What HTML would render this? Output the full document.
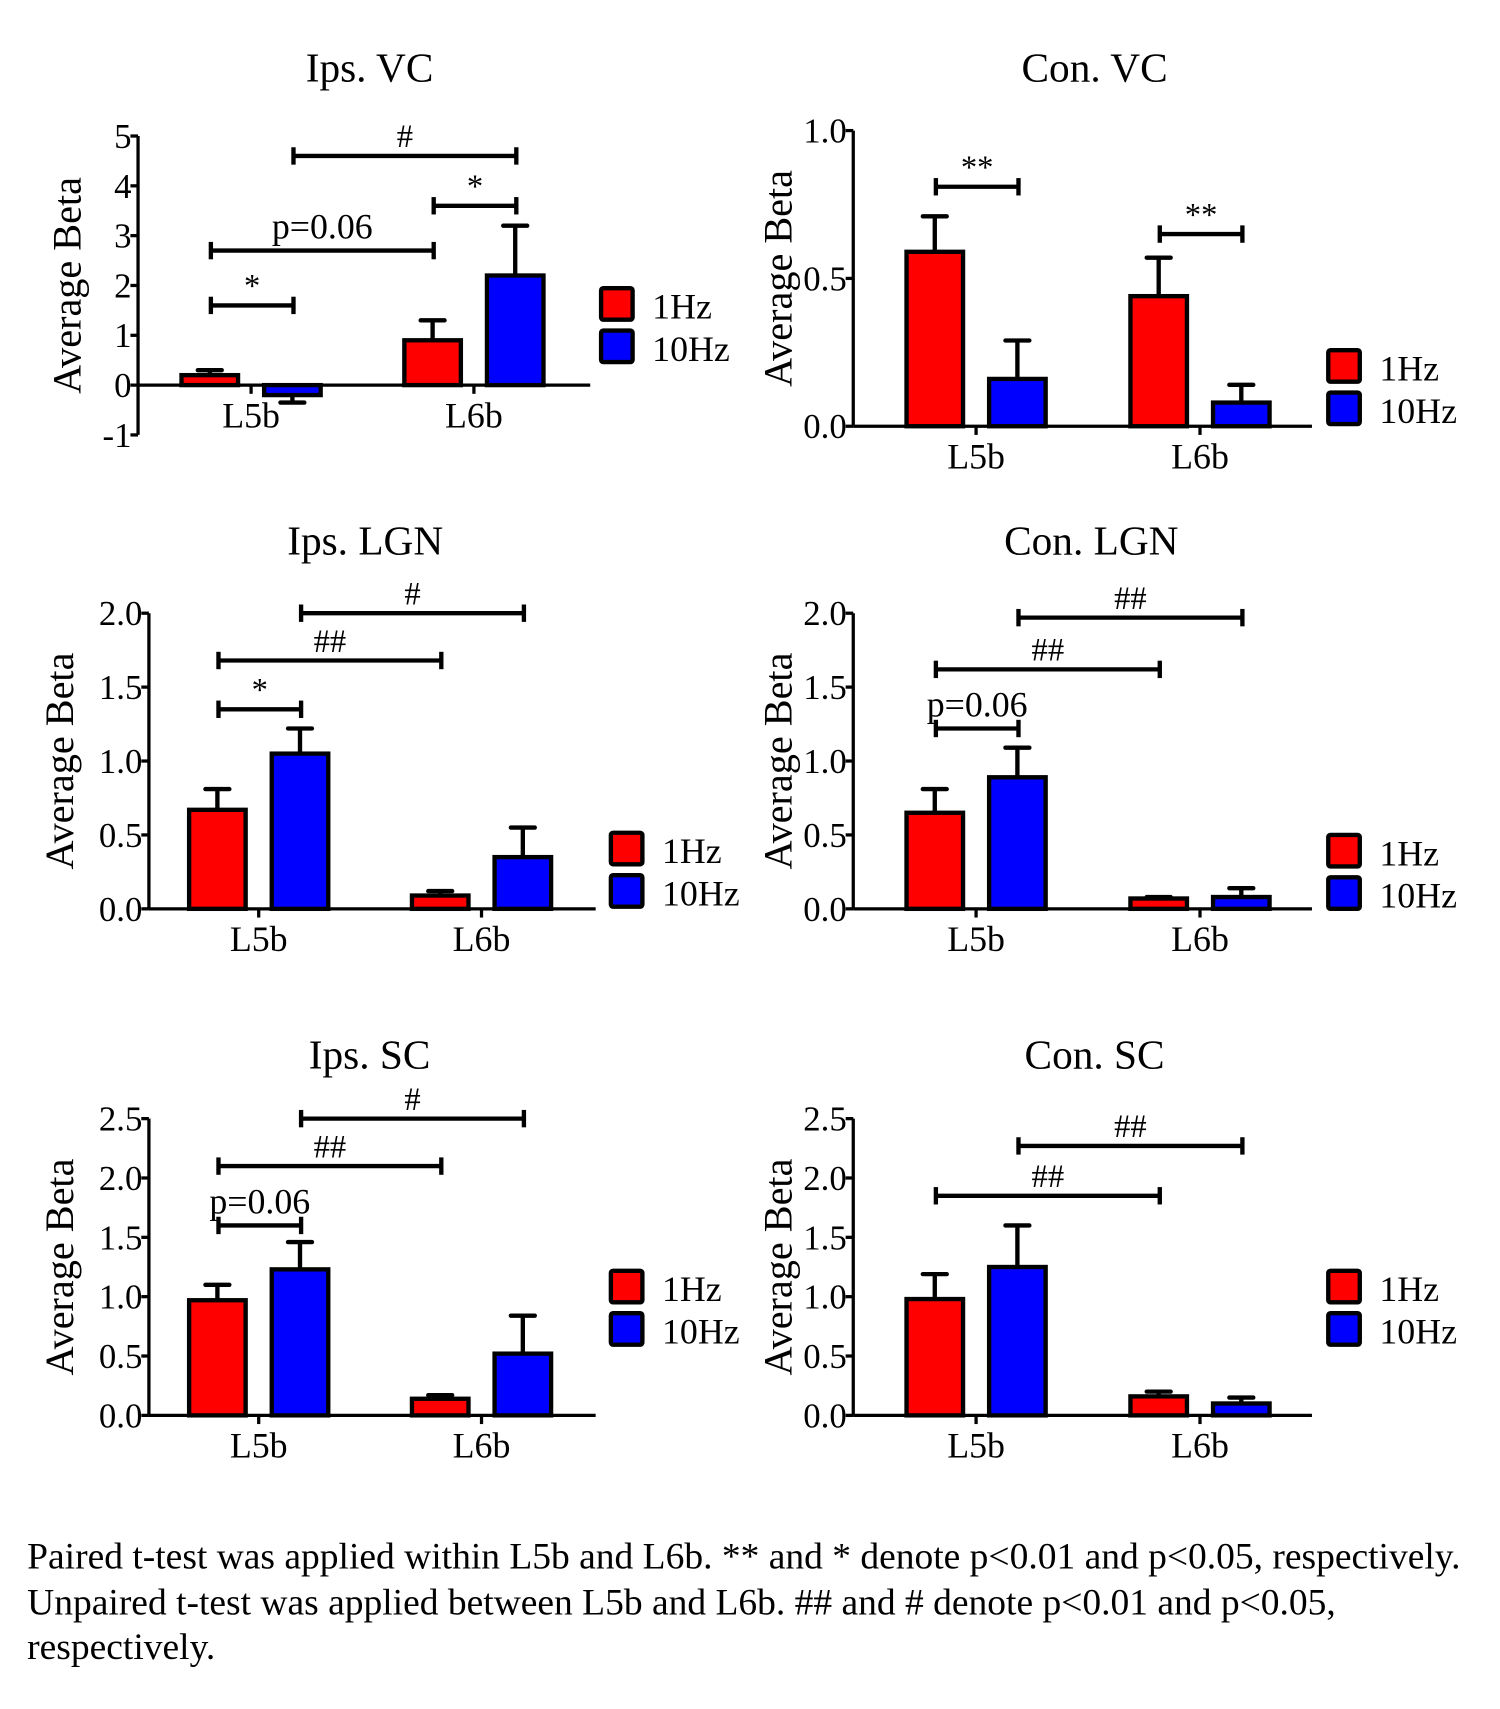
<!DOCTYPE html>
<html><head><meta charset="utf-8"><style>
html,body{margin:0;padding:0;background:#fff;}
svg{display:block;font-family:"Liberation Serif",serif;}
</style></head><body>
<svg id="fig" width="1500" height="1709" viewBox="0 0 1380 1572" xmlns="http://www.w3.org/2000/svg">
<rect width="1380" height="1572" fill="#fff"/>
<g font-size="34.5" fill="#000">
<text x="25" y="1443">Paired t-test was applied within L5b and L6b.  ** and * denote p&lt;0.01 and p&lt;0.05, respectively.</text>
<text x="25" y="1485">Unpaired t-test was applied between L5b and L6b. ## and # denote p&lt;0.01 and p&lt;0.05,</text>
<text x="25" y="1526">respectively.</text>
</g>
</svg>
<script>
const categories = ["L5b","L6b"];
const seriesNames = ["1Hz","10Hz"];
const titles = ["Ips. VC","Con. VC","Ips. LGN","Con. LGN","Ips. SC","Con. SC"];
const means1Hz = [[0.2,0.9],[0.59,0.44],[0.67,0.09],[0.65,0.07],[0.97,0.14],[0.98,0.16]];
const means10Hz = [[-0.2,2.2],[0.16,0.08],[1.05,0.35],[0.89,0.08],[1.23,0.52],[1.25,0.1]];
const err1Hz = [[0.3,1.3],[0.71,0.57],[0.81,0.12],[0.81,0.08],[1.1,0.17],[1.19,0.2]];
const err10Hz = [[-0.35,3.2],[0.29,0.14],[1.22,0.55],[1.09,0.14],[1.46,0.84],[1.6,0.15]];
const yTicks = [[-1,0,1,2,3,4,5],[0,0.5,1.0],[0,0.5,1.0,1.5,2.0],[0,0.5,1.0,1.5,2.0],[0,0.5,1.0,1.5,2.0,2.5],[0,0.5,1.0,1.5,2.0,2.5]];
const tickLabels = [["-1","0","1","2","3","4","5"],["0.0","0.5","1.0"],["0.0","0.5","1.0","1.5","2.0"],["0.0","0.5","1.0","1.5","2.0"],["0.0","0.5","1.0","1.5","2.0","2.5"],["0.0","0.5","1.0","1.5","2.0","2.5"]];
// significance brackets: [fromBarIndex, toBarIndex, yValue, label]
const sigBrackets = [
 [[0,1,1.6,"*"],[0,2,2.7,"p=0.06"],[2,3,3.6,"*"],[1,3,4.6,"#"]],
 [[0,1,0.81,"**"],[2,3,0.65,"**"]],
 [[0,1,1.35,"*"],[0,2,1.68,"##"],[1,3,2.0,"#"]],
 [[0,1,1.22,"p=0.06"],[0,2,1.62,"##"],[1,3,1.97,"##"]],
 [[0,1,1.6,"p=0.06"],[0,2,2.1,"##"],[1,3,2.5,"#"]],
 [[0,2,1.85,"##"],[1,3,2.27,"##"]]
];
const layout = [
 {ax:127,top:125,bot:400,yMin:-1,yMax:5,xEnd:543,g0:231,g1:436,title:[340,75],yl:62,leg:[553,265]},
 {ax:785,top:120,bot:392,yMin:0,yMax:1,xEnd:1207,g0:898,g1:1104,title:[1007,75],yl:716,leg:[1222,322]},
 {ax:137,top:564,bot:836,yMin:0,yMax:2,xEnd:548,g0:238,g1:443,title:[336,510],yl:55,leg:[562,766]},
 {ax:785,top:564,bot:836,yMin:0,yMax:2,xEnd:1207,g0:898,g1:1104,title:[1004,510],yl:716,leg:[1222,768]},
 {ax:137,top:1029,bot:1302,yMin:0,yMax:2.5,xEnd:548,g0:238,g1:443,title:[340,983],yl:55,leg:[562,1169]},
 {ax:785,top:1029,bot:1302,yMin:0,yMax:2.5,xEnd:1207,g0:898,g1:1104,title:[1007,983],yl:716,leg:[1222,1169]}
];
const NS="http://www.w3.org/2000/svg";
const svg=document.getElementById('fig');
function mk(tag,attrs,parent){const e=document.createElementNS(NS,tag);for(const k in attrs)e.setAttribute(k,attrs[k]);parent.appendChild(e);return e;}
const colors=["#ff0000","#0000ff"];
layout.forEach((L,p)=>{
  const g=mk('g',{},svg);
  
  
  const y=v=>L.bot-(v-L.yMin)/(L.yMax-L.yMin)*(L.bot-L.top);
  const bw=52;
  const bc=i=>{const c=i<2?L.g0:L.g1;return i%2===0?c-38:c+38;};
  const t=mk('text',{x:L.title[0],y:L.title[1],'font-size':38,'text-anchor':'middle'},g);t.textContent=titles[p];
  
  const yl=mk('text',{x:0,y:0,'font-size':37,'text-anchor':'middle',transform:`translate(${L.yl+12},${(L.top+L.bot)/2}) rotate(-90)`},g);yl.textContent='Average Beta';
  
  for(let i=0;i<4;i++){
    const s=i%2, c=i<2?0:1;
    const m=(s===0?means1Hz:means10Hz)[p][c], e=(s===0?err1Hz:err10Hz)[p][c];
    const cx=bc(i), y0=y(0), ym=y(m), ye=y(e);
    mk('line',{x1:cx,x2:cx,y1:ym,y2:ye,stroke:'#000','stroke-width':4},g);
    mk('line',{x1:cx-11,x2:cx+11,y1:ye,y2:ye,stroke:'#000','stroke-width':4,'stroke-linecap':'round'},g);
    const r=mk('rect',{x:cx-bw/2,y:Math.min(y0,ym),width:bw,height:Math.max(1,Math.abs(ym-y0)),fill:colors[s],stroke:'#000','stroke-width':4},g);
    
    
  }
  const ya=mk('line',{x1:L.ax,x2:L.ax,y1:L.top,y2:L.bot,stroke:'#000','stroke-width':3},g);
  
  yTicks[p].forEach((v,k)=>{
    mk('line',{x1:L.ax-7,x2:L.ax,y1:y(v),y2:y(v),stroke:'#000','stroke-width':3},g);
    const tl=mk('text',{x:L.ax-6,y:y(v)+11,'font-size':32,'text-anchor':'end'},g);tl.textContent=tickLabels[p][k];
    
  });
  const xa=mk('line',{x1:L.ax,x2:L.xEnd,y1:y(0),y2:y(0),stroke:'#000','stroke-width':3},g);
  
  [L.g0,L.g1].forEach((cx,c)=>{
    mk('line',{x1:cx,x2:cx,y1:y(0),y2:y(0)+8,stroke:'#000','stroke-width':3},g);
    const xl=mk('text',{x:cx,y:y(0)+39,'font-size':33,'text-anchor':'middle'},g);xl.textContent=categories[c];
    
  });
  sigBrackets[p].forEach(b=>{
    const x1=bc(b[0])+1,x2=bc(b[1])+1,yy=y(b[2]);
    const bg=mk('g',{},g);
    
    mk('line',{x1:x1,x2:x2,y1:yy,y2:yy,stroke:'#000','stroke-width':4},bg);
    mk('line',{x1:x1,x2:x1,y1:yy-8,y2:yy+8,stroke:'#000','stroke-width':4},bg);
    mk('line',{x1:x2,x2:x2,y1:yy-8,y2:yy+8,stroke:'#000','stroke-width':4},bg);
    const st=mk('text',{x:(x1+x2)/2,y:yy-(b[3]==="p=0.06"?11:8),'font-size':b[3]==="p=0.06"?33:30,'text-anchor':'middle'},bg);st.textContent=b[3];
  });
  seriesNames.forEach((n,s)=>{
    const lg=mk('g',{},g);
    
    mk('rect',{x:L.leg[0],y:L.leg[1]+s*39,width:29,height:29,fill:colors[s],stroke:'#000','stroke-width':4,rx:2},lg);
    const lt=mk('text',{x:L.leg[0]+47,y:L.leg[1]+s*39+28,'font-size':33},lg);lt.textContent=n;
  });
});
</script>
</body></html>
